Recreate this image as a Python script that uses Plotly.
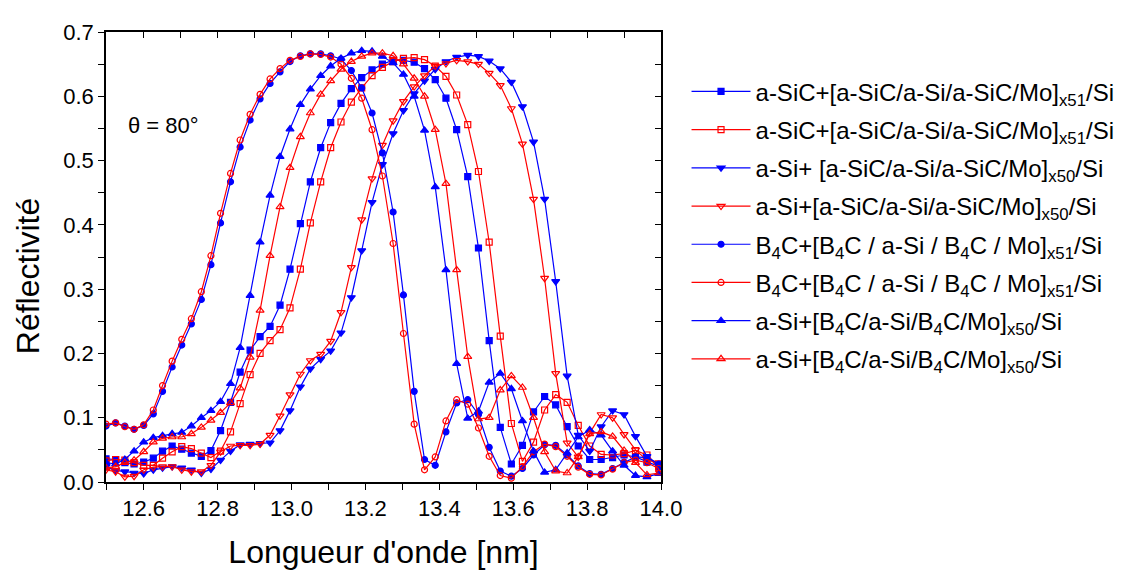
import plotly.graph_objects as go

# wavelength grid (nm)
wavelength = [12.498, 12.524, 12.549, 12.574, 12.600, 12.626, 12.651, 12.677, 12.703, 12.729,
              12.756, 12.782, 12.808, 12.835, 12.861, 12.888, 12.915, 12.942, 12.969, 12.996,
              13.024, 13.051, 13.079, 13.106, 13.134, 13.162, 13.190, 13.218, 13.246, 13.275,
              13.303, 13.332, 13.360, 13.389, 13.418, 13.447, 13.477, 13.506, 13.535, 13.565,
              13.595, 13.625, 13.655, 13.685, 13.715, 13.746, 13.776, 13.807, 13.838, 13.869,
              13.900, 13.931, 13.962, 13.994]

sic51_blue = [0.036, 0.035, 0.030, 0.028, 0.031, 0.037, 0.048, 0.056, 0.051, 0.045,
              0.040, 0.049, 0.080, 0.124, 0.171, 0.205, 0.226, 0.242, 0.275, 0.331,
              0.402, 0.467, 0.520, 0.559, 0.589, 0.612, 0.629, 0.641, 0.650, 0.656,
              0.656, 0.653, 0.643, 0.626, 0.597, 0.548, 0.475, 0.364, 0.220, 0.085,
              0.028, 0.057, 0.109, 0.133, 0.120, 0.086, 0.056, 0.035, 0.035, 0.038,
              0.042, 0.039, 0.031, 0.024]
sic51_red = [0.033, 0.035, 0.034, 0.030, 0.026, 0.026, 0.037, 0.047, 0.055, 0.052,
             0.045, 0.038, 0.048, 0.078, 0.122, 0.167, 0.200, 0.220, 0.237, 0.271,
             0.331, 0.403, 0.467, 0.520, 0.560, 0.591, 0.613, 0.632, 0.645, 0.654,
             0.659, 0.660, 0.657, 0.647, 0.631, 0.602, 0.556, 0.483, 0.373, 0.227,
             0.091, 0.032, 0.062, 0.112, 0.136, 0.124, 0.088, 0.056, 0.043, 0.042,
             0.044, 0.049, 0.042, 0.021]
sic50_blue = [0.024, 0.018, 0.016, 0.014, 0.013, 0.019, 0.022, 0.024, 0.022, 0.019,
              0.014, 0.020, 0.034, 0.048, 0.058, 0.059, 0.060, 0.061, 0.080, 0.111,
              0.148, 0.176, 0.191, 0.204, 0.232, 0.287, 0.360, 0.435, 0.494, 0.542,
              0.578, 0.604, 0.624, 0.642, 0.654, 0.661, 0.664, 0.662, 0.655, 0.643,
              0.622, 0.584, 0.529, 0.440, 0.312, 0.165, 0.073, 0.048, 0.086, 0.111,
              0.105, 0.071, 0.040, 0.027]
sic50_red = [0.019, 0.016, 0.008, 0.009, 0.019, 0.023, 0.024, 0.024, 0.019, 0.016,
             0.016, 0.026, 0.047, 0.056, 0.057, 0.057, 0.059, 0.073, 0.103, 0.136,
             0.168, 0.189, 0.199, 0.219, 0.264, 0.334, 0.408, 0.472, 0.524, 0.562,
             0.592, 0.615, 0.632, 0.647, 0.651, 0.656, 0.654, 0.650, 0.636, 0.617,
             0.581, 0.526, 0.440, 0.317, 0.169, 0.061, 0.039, 0.076, 0.105, 0.100,
             0.074, 0.050, 0.034, 0.030]
b4c51_blue = [0.087, 0.092, 0.087, 0.082, 0.088, 0.106, 0.141, 0.179, 0.213, 0.246,
              0.284, 0.338, 0.403, 0.467, 0.521, 0.563, 0.596, 0.620, 0.638, 0.654,
              0.663, 0.666, 0.666, 0.663, 0.658, 0.640, 0.613, 0.574, 0.512, 0.420,
              0.291, 0.141, 0.035, 0.026, 0.078, 0.123, 0.128, 0.105, 0.054, 0.017,
              0.009, 0.021, 0.042, 0.058, 0.057, 0.042, 0.025, 0.013, 0.012, 0.021,
              0.031, 0.039, 0.038, 0.028]
b4c51_red = [0.090, 0.092, 0.086, 0.082, 0.089, 0.112, 0.150, 0.188, 0.222, 0.254,
             0.296, 0.352, 0.418, 0.480, 0.532, 0.572, 0.603, 0.627, 0.643, 0.656,
             0.662, 0.666, 0.665, 0.661, 0.650, 0.628, 0.597, 0.548, 0.476, 0.371,
             0.231, 0.090, 0.019, 0.039, 0.095, 0.128, 0.121, 0.084, 0.040, 0.010,
             0.006, 0.024, 0.047, 0.059, 0.055, 0.040, 0.023, 0.012, 0.011, 0.020,
             0.030, 0.034, 0.030, 0.021]
b4c50_blue = [0.030, 0.028, 0.035, 0.048, 0.062, 0.069, 0.072, 0.075, 0.077, 0.087,
              0.100, 0.111, 0.125, 0.153, 0.209, 0.290, 0.373, 0.446, 0.506, 0.549,
              0.587, 0.611, 0.632, 0.647, 0.659, 0.667, 0.671, 0.670, 0.662, 0.652,
              0.634, 0.600, 0.547, 0.459, 0.330, 0.184, 0.099, 0.110, 0.155, 0.169,
              0.145, 0.095, 0.048, 0.015, 0.019, 0.045, 0.070, 0.081, 0.073, 0.048,
              0.026, 0.010, 0.008, 0.013]
b4c50_red = [0.022, 0.024, 0.030, 0.034, 0.047, 0.062, 0.068, 0.070, 0.070, 0.075,
             0.085, 0.096, 0.108, 0.123, 0.146, 0.194, 0.267, 0.352, 0.428, 0.489,
             0.537, 0.574, 0.603, 0.624, 0.642, 0.654, 0.662, 0.667, 0.667, 0.663,
             0.650, 0.628, 0.600, 0.548, 0.464, 0.330, 0.195, 0.098, 0.100, 0.143,
             0.165, 0.147, 0.100, 0.047, 0.017, 0.014, 0.039, 0.075, 0.078, 0.071,
             0.049, 0.030, 0.011, 0.014]

labels = [
    "a-SiC+[a-SiC/a-Si/a-SiC/Mo]<sub>x51</sub>/Si",
    "a-SiC+[a-SiC/a-Si/a-SiC/Mo]<sub>x51</sub>/Si",
    "a-Si+ [a-SiC/a-Si/a-SiC/Mo]<sub>x50</sub>/Si",
    "a-Si+[a-SiC/a-Si/a-SiC/Mo]<sub>x50</sub>/Si",
    "B<sub>4</sub>C+[B<sub>4</sub>C / a-Si / B<sub>4</sub>C / Mo]<sub>x51</sub>/Si",
    "B<sub>4</sub>C+[B<sub>4</sub>C / a-Si / B<sub>4</sub>C / Mo]<sub>x51</sub>/Si",
    "a-Si+[B<sub>4</sub>C/a-Si/B<sub>4</sub>C/Mo]<sub>x50</sub>/Si",
    "a-Si+[B<sub>4</sub>C/a-Si/B<sub>4</sub>C/Mo]<sub>x50</sub>/Si",
]
series = [sic51_blue, sic51_red, sic50_blue, sic50_red, b4c51_blue, b4c51_red, b4c50_blue, b4c50_red]
colors = ["#0000FF", "#FF0000"] * 4
symbols = ["square", "square-open", "triangle-down", "triangle-down-open",
           "circle", "circle-open", "triangle-up", "triangle-up-open"]
sizes = [6, 6, 7, 7, 6, 6, 7, 7]

fig = go.Figure()
for i, (ys, lab) in enumerate(zip(series, labels)):
    fig.add_trace(go.Scatter(
        x=wavelength, y=ys, name=lab, mode="lines+markers",
        line=dict(color=colors[i], width=1.2),
        marker=dict(symbol=symbols[i], size=sizes[i], color=colors[i],
                    line=dict(color=colors[i], width=1.2)),
        legendgroup=f"g{i}",
    ))
# empty trace to carry mirrored top/right axes
fig.add_trace(go.Scatter(x=[], y=[], xaxis="x2", yaxis="y2", showlegend=False,
                         hoverinfo="skip"))

font = "Liberation Sans, Arial, sans-serif"
axis_common = dict(showline=True, linecolor="black", linewidth=1.5, showgrid=False,
                   zeroline=False, ticklen=6, tickwidth=1.3, tickcolor="black")
minor_out = dict(ticks="outside", ticklen=6, tickwidth=1.3, tickcolor="black")
minor_in = dict(ticks="inside", ticklen=6, tickwidth=1.3, tickcolor="black")

fig.update_layout(
    width=1124, height=570,
    margin=dict(l=98, r=470, t=21, b=96),
    paper_bgcolor="white", plot_bgcolor="white",
    font=dict(family=font, color="black", size=22),
    xaxis=dict(range=[12.498, 14.0], tick0=12.6, dtick=0.2, ticks="outside",
               tickformat=".1f", tickfont=dict(size=22),
               minor=dict(dtick=0.1, **minor_out),
               title=dict(text="Longueur d'onde [nm]", font=dict(size=32), standoff=20),
               **axis_common),
    yaxis=dict(range=[0, 0.7], dtick=0.1, ticks="outside", tickformat=".1f",
               tickfont=dict(size=22),
               minor=dict(dtick=0.05, **minor_out),
               **axis_common),
    xaxis2=dict(range=[12.498, 14.0], overlaying="x", side="top", anchor="y2",
                tick0=12.6, dtick=0.2, ticks="inside", showticklabels=False,
                minor=dict(dtick=0.1, **minor_in),
                **axis_common),
    yaxis2=dict(range=[0, 0.7], overlaying="y", side="right", anchor="x2",
                dtick=0.1, ticks="inside", showticklabels=False,
                minor=dict(dtick=0.05, **minor_in),
                **axis_common),
    legend=dict(x=1.046, y=0.917, xanchor="left", yanchor="top",
                font=dict(size=24, family=font), bgcolor="rgba(0,0,0,0)",
                itemwidth=59, tracegroupgap=4),
    showlegend=True,
)
fig.add_annotation(x=12.553, y=0.555, xref="x", yref="y", xanchor="left", yanchor="middle",
                   text="θ = 80°", showarrow=False, font=dict(size=22, family=font))
fig.add_annotation(x=-0.14, y=0.458, xref="paper", yref="paper", xanchor="center",
                   yanchor="middle", textangle=-90, text="Réflectivité", showarrow=False,
                   font=dict(size=32, family=font))

fig.write_html("out.html")
